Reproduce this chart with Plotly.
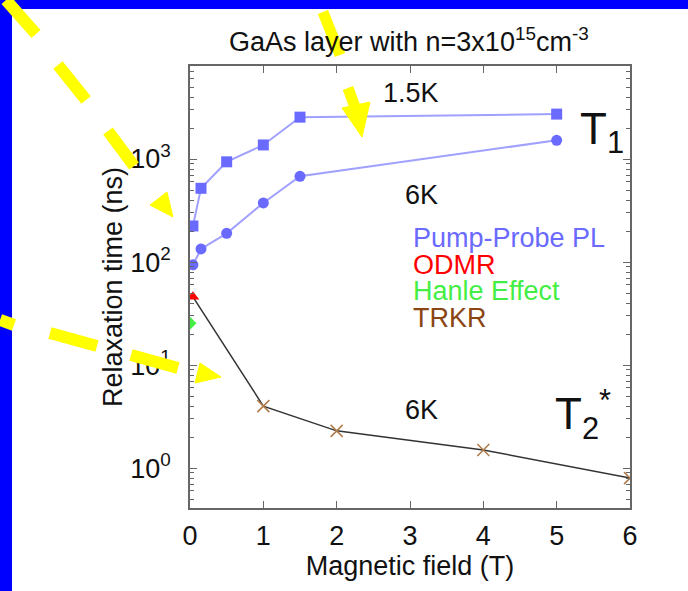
import plotly.graph_objects as go

# ---- data ----
field_15K = [0.04, 0.15, 0.5, 1.0, 1.5, 5.0]
t1_15K = [224, 520, 940, 1370, 2550, 2730]
field_6K = [0.04, 0.15, 0.5, 1.0, 1.5, 5.0]
t1_6K = [94, 134, 190, 375, 680, 1520]
odmr_x = [0.04]
odmr_y = [46]
hanle_x = [0.0]
hanle_y = [25.5]
trkr_x = [1, 2, 4, 6]
trkr_y = [4.0, 2.3, 1.5, 0.8]
major_vals = [1, 10, 100, 1000]
major_text = ["10<sup>0</sup>", "10<sup>1</sup>", "10<sup>2</sup>", "10<sup>3</sup>"]

W, H = 688, 591
L, R, T, B = 190, 630, 66, 508

def px(x):
    return (x - L) / (R - L)

def py(y):
    return (B - y) / (B - T)

FONT = "Liberation Sans, Arial, Helvetica, sans-serif"
BLUE_LINE = "#a0a0ff"
BLUE_MK = "#6a6aff"
FS = 27

fig = go.Figure()
fig.add_trace(go.Scatter(x=field_15K, y=t1_15K, mode="lines+markers",
                         line=dict(color=BLUE_LINE, width=2),
                         marker=dict(symbol="square", size=11, color=BLUE_MK)))
fig.add_trace(go.Scatter(x=field_6K, y=t1_6K, mode="lines+markers",
                         line=dict(color=BLUE_LINE, width=2),
                         marker=dict(symbol="circle", size=11, color=BLUE_MK)))
fig.add_trace(go.Scatter(x=odmr_x + trkr_x, y=odmr_y + trkr_y, mode="lines",
                         line=dict(color="#333333", width=1.5)))
fig.add_trace(go.Scatter(x=trkr_x, y=trkr_y, mode="markers",
                         marker=dict(symbol="x-thin", size=12, color="#b07a4a",
                                     line=dict(color="#b07a4a", width=1.5))))
fig.add_trace(go.Scatter(x=odmr_x, y=odmr_y, mode="markers",
                         marker=dict(symbol="triangle-up", size=11, color="#ff0000")))
fig.add_trace(go.Scatter(x=hanle_x, y=hanle_y, mode="markers",
                         marker=dict(symbol="diamond", size=10, color="#44ee44")))

minor_vals = [k * 10 ** e for e in range(-1, 4) for k in range(2, 10)]
minor_vals = [v for v in minor_vals if 0.41 <= v <= 8000]

fig.update_xaxes(range=[0, 6], dtick=1, ticks="inside", ticklen=7, tickwidth=1.2,
                 tickcolor="#666", showline=True, linecolor="#666", linewidth=1.5,
                 mirror="ticks", showgrid=False, zeroline=False, ticklabelstandoff=3,
                 tickfont=dict(family=FONT, size=FS, color="#111"),
                 title=dict(text="Magnetic field (T)", font=dict(family=FONT, size=FS, color="#111"),
                            standoff=2))
fig.update_yaxes(type="log", range=[-0.387, 3.903], tickmode="array",
                 tickvals=major_vals, ticktext=major_text,
                 ticks="inside", ticklen=7, tickwidth=1.2, tickcolor="#666",
                 minor=dict(tickmode="array", tickvals=minor_vals, ticks="inside",
                            ticklen=4, tickcolor="#666", showgrid=False),
                 showline=True, linecolor="#666", linewidth=1.5, mirror="ticks",
                 showgrid=False, zeroline=False, ticklabelstandoff=12,
                 tickfont=dict(family=FONT, size=FS, color="#111"),
                 title=dict(text="Relaxation time (ns)", font=dict(family=FONT, size=FS, color="#111"),
                            standoff=0))

def ann(text, x, y, size=FS, color="#111", xanchor="center"):
    fig.add_annotation(text=text, x=px(x), y=py(y), xref="paper", yref="paper",
                       showarrow=False, xanchor=xanchor, yanchor="middle",
                       font=dict(family=FONT, size=size, color=color))

ann("GaAs layer with n=3x10<sup>15</sup>cm<sup>-3</sup>", 409, 40, size=27)
ann("1.5K", 411, 93)
ann("6K", 421, 195)
ann("6K", 421, 410)
ann("Pump-Probe PL", 411, 238, color="#6a6aff", xanchor="left")
ann("ODMR", 411, 265, color="#ff0000", xanchor="left")
ann("Hanle Effect", 411, 291, color="#44ee44", xanchor="left")
ann("TRKR", 411, 318, color="#8b4513", xanchor="left")
ann("T<sub>1</sub>", 578, 132, size=44, xanchor="left")
ann("T<sub>2</sub><sup>*</sup>", 553, 414, size=44, xanchor="left")

shapes = []
# slide border
shapes.append(dict(type="rect", xref="paper", yref="paper", x0=px(0), x1=px(12), y0=py(0), y1=py(H),
                   fillcolor="#0000ff", line=dict(width=0), layer="above"))
shapes.append(dict(type="rect", xref="paper", yref="paper", x0=px(0), x1=px(W), y0=py(0), y1=py(9),
                   fillcolor="#0000ff", line=dict(width=0), layer="above"))

YEL = "#ffff00"
def seg(x0, y0, x1, y1, w=12):
    shapes.append(dict(type="line", xref="paper", yref="paper", x0=px(x0), y0=py(y0),
                       x1=px(x1), y1=py(y1), line=dict(color=YEL, width=w), layer="above"))

def tri(pts):
    d = "M " + " L ".join(f"{px(a)},{py(b)}" for a, b in pts) + " Z"
    shapes.append(dict(type="path", xref="paper", yref="paper", path=d,
                       fillcolor=YEL, line=dict(color=YEL, width=1), layer="above"))

# arrow 1 (top-left)
seg(6, 0, 36, 34)
seg(58, 65, 86, 100)
seg(108, 131, 134, 166)
tri([(150, 205), (167, 192), (173, 217)])
# arrow 2 (left)
seg(0, 320, 14, 325)
seg(50, 333, 97, 346)
seg(131, 355, 178, 368)
tri([(200, 363), (221, 377), (195, 383)])
# arrow 3 (top)
seg(323, 12, 340, 55, w=11)
seg(348, 88, 356, 110, w=11)
tri([(342, 108), (370, 102), (362, 137)])

fig.update_layout(width=W, height=H, margin=dict(l=L, r=W - R, t=T, b=H - B),
                  paper_bgcolor="white", plot_bgcolor="white", showlegend=False,
                  shapes=shapes)

fig.write_html("out.html")
